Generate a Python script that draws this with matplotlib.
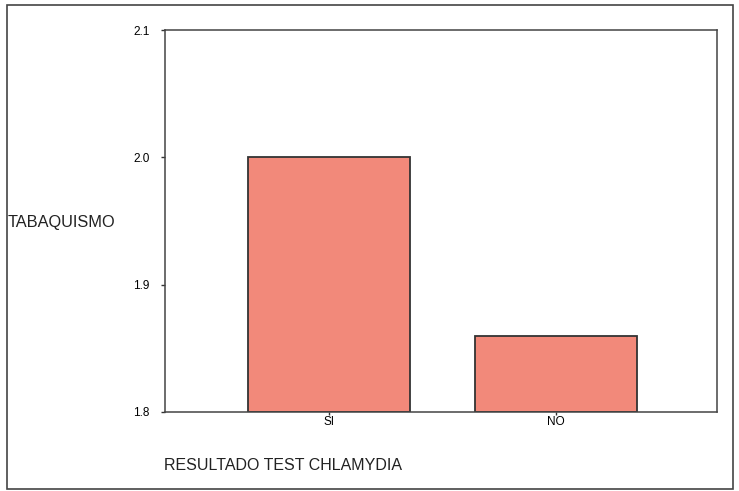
import matplotlib.pyplot as plt
from matplotlib.patches import Rectangle

categories = ['SI', 'NO']
values = [2.0, 1.86]
y_ticks = [1.8, 1.9, 2.0, 2.1]

fig = plt.figure(figsize=(7.39, 4.91), dpi=100)
plt.rcParams['font.family'] = ['Liberation Sans', 'DejaVu Sans']

# outer frame of the chart box
fig.patches.append(Rectangle((7 / 739, 2 / 491), 726 / 739, 484 / 491,
                             transform=fig.transFigure, fill=False,
                             edgecolor='#444444', linewidth=1.2))

ax = fig.add_axes([0.2233, 0.1609, 0.7466, 0.778])
x = range(len(categories))
ax.bar(x, [v - 1.8 for v in values], bottom=1.8, width=0.714,
       color='#F2897A', edgecolor='#333333', linewidth=1.3)

ax.set_xlim(-0.722, 1.709)
ax.set_ylim(1.8, 2.1)
ax.set_yticks(y_ticks)
ax.set_yticklabels([f'{t:.1f}' for t in y_ticks])
ax.set_xticks(list(x))
ax.set_xticklabels(categories)
ax.tick_params(axis='y', labelsize=8.5, length=3, width=1, color='#333333', pad=8)
ax.tick_params(axis='x', labelsize=8.5, length=2, width=1, color='#333333', pad=1)
for s in ax.spines.values():
    s.set_color('#444444')
    s.set_linewidth(1.1)

fig.text(8 / 739, 1 - 222 / 491, 'TABAQUISMO', fontsize=11.8, ha='left', va='center', color='#222222')
fig.text(164 / 739, 1 - 466 / 491, 'RESULTADO TEST CHLAMYDIA', fontsize=11.5, ha='left', va='center', color='#222222')

fig.savefig('out.png', dpi=100)
